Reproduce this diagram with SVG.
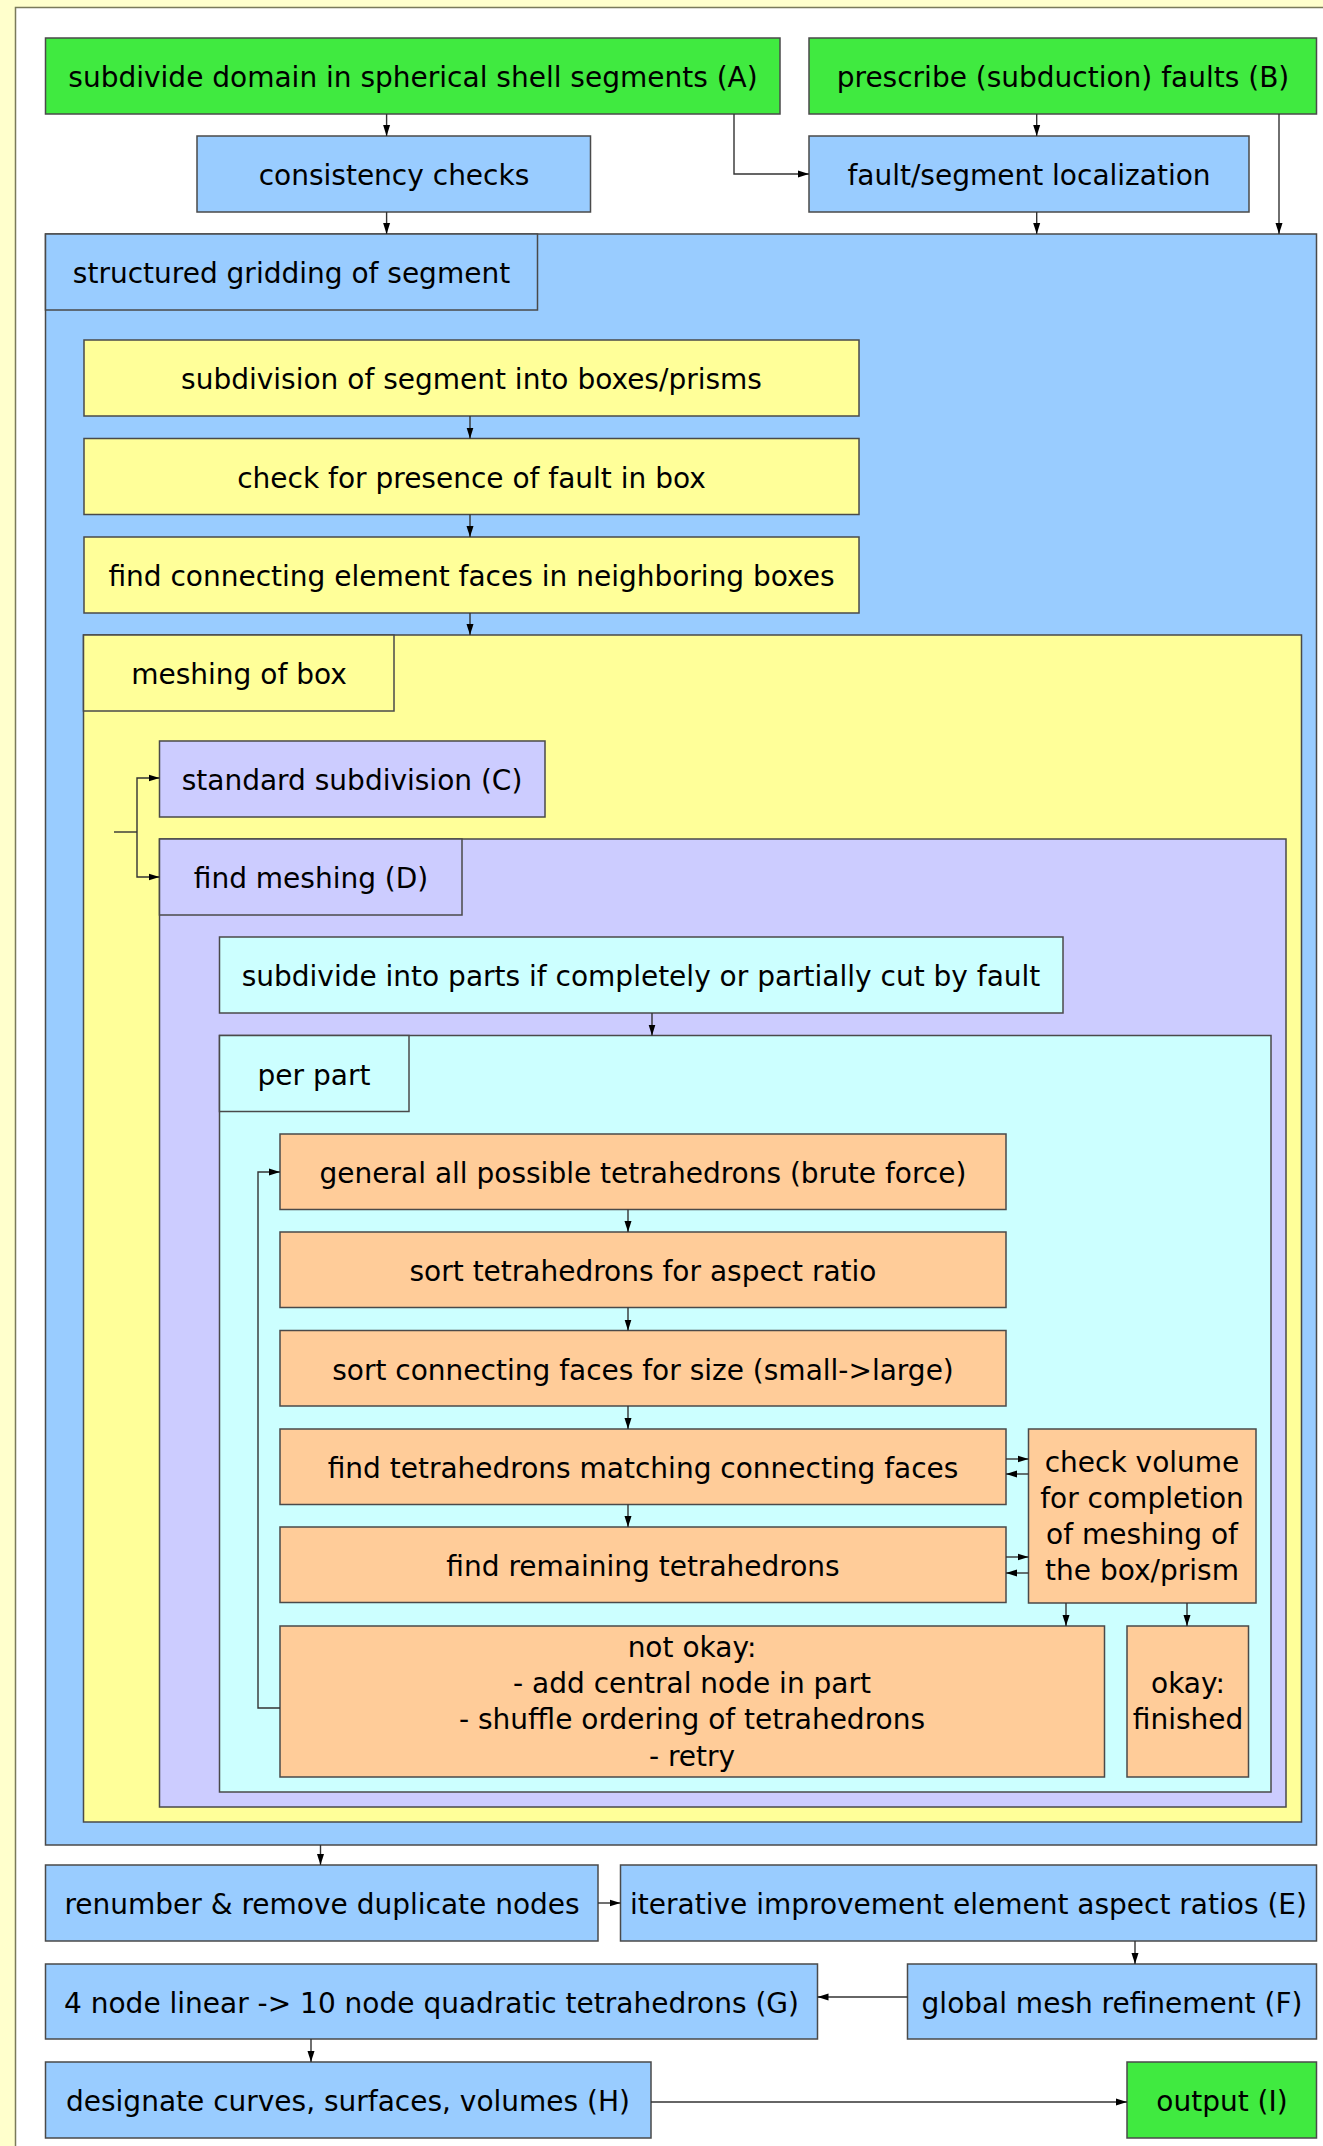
<svg xmlns="http://www.w3.org/2000/svg" width="1323" height="2146" viewBox="0 0 1323 2146">
<defs>
<style>
.b{stroke:#4a4a4a;stroke-width:1.5}
.g{fill:#40ea40}.bl{fill:#99ccff}.y{fill:#ffff99}.l{fill:#ccccff}.c{fill:#ccffff}.o{fill:#ffcc99}
text{font-family:"DejaVu Sans","Liberation Sans",sans-serif;font-size:28px;fill:#000;text-anchor:middle}
.cn{fill:none;stroke:#333;stroke-width:1.4;marker-end:url(#ah)}
.ln{fill:none;stroke:#333;stroke-width:1.4}
</style>
<marker id="ah" markerUnits="userSpaceOnUse" markerWidth="12" markerHeight="8" refX="11" refY="4" orient="auto">
<path d="M0,0.5 L11,4 L0,7.5 z" fill="#000"/>
</marker>
</defs>
<rect x="0" y="0" width="1323" height="2146" fill="#ffffcc"/>
<rect x="15.5" y="7.5" width="1320" height="2150" fill="#ffffff" stroke="#7a7a5a" stroke-width="1.5"/>

<g id="nodeA"><rect class="b g" x="45.5" y="38" width="734.5" height="76"/><text x="413" y="87">subdivide domain in spherical shell segments (A)</text></g>
<g id="nodeB"><rect class="b g" x="809" y="38" width="507.5" height="76"/><text x="1063" y="87">prescribe (subduction) faults (B)</text></g>
<g id="consistency"><rect class="b bl" x="197" y="136" width="393.5" height="76"/><text x="394" y="185">consistency checks</text></g>
<g id="localization"><rect class="b bl" x="809" y="136" width="440" height="76"/><text x="1029" y="185">fault/segment localization</text></g>

<g id="gridding">
<rect class="b bl" x="45.5" y="234" width="1271" height="1611"/>
<rect class="b bl" x="45.5" y="234" width="492" height="76"/><text x="291.5" y="283">structured gridding of segment</text>
</g>
<g id="subdivisionBoxes"><rect class="b y" x="84" y="340" width="775" height="76"/><text x="471.5" y="389">subdivision of segment into boxes/prisms</text></g>
<g id="checkFault"><rect class="b y" x="84" y="438.5" width="775" height="76"/><text x="471.5" y="487.5">check for presence of fault in box</text></g>
<g id="connectingFaces"><rect class="b y" x="84" y="537" width="775" height="76"/><text x="471.5" y="586">find connecting element faces in neighboring boxes</text></g>

<g id="meshingBox">
<rect class="b y" x="83.5" y="635" width="1218" height="1187"/>
<rect class="b y" x="83.5" y="635" width="310.5" height="76"/><text x="239" y="684">meshing of box</text>
</g>
<g id="nodeC"><rect class="b l" x="159.5" y="741" width="385.5" height="76"/><text x="352" y="790">standard subdivision (C)</text></g>
<g id="findMeshing">
<rect class="b l" x="159.5" y="839" width="1126.5" height="968"/>
<rect class="b l" x="159.5" y="839" width="302.5" height="76"/><text x="311" y="888">find meshing (D)</text>
</g>
<g id="subdivideParts"><rect class="b c" x="219.5" y="937" width="843.5" height="76"/><text x="641" y="986">subdivide into parts if completely or partially cut by fault</text></g>
<g id="perPart">
<rect class="b c" x="219.5" y="1035.5" width="1051.5" height="756.5"/>
<rect class="b c" x="219.5" y="1035.5" width="189.5" height="76"/><text x="314" y="1084.5">per part</text>
</g>
<g id="general"><rect class="b o" x="280" y="1134" width="726" height="75.5"/><text x="643" y="1183">general all possible tetrahedrons (brute force)</text></g>
<g id="sortTetra"><rect class="b o" x="280" y="1232" width="726" height="75.5"/><text x="643" y="1281">sort tetrahedrons for aspect ratio</text></g>
<g id="sortFaces"><rect class="b o" x="280" y="1330.5" width="726" height="75.5"/><text x="643" y="1379.5">sort connecting faces for size (small-&gt;large)</text></g>
<g id="findMatching"><rect class="b o" x="280" y="1429" width="726" height="75.5"/><text x="643" y="1478">find tetrahedrons matching connecting faces</text></g>
<g id="findRemaining"><rect class="b o" x="280" y="1527" width="726" height="75.5"/><text x="643" y="1576">find remaining tetrahedrons</text></g>
<g id="checkVolume"><rect class="b o" x="1028.5" y="1429" width="227.5" height="174"/>
<text x="1142" y="1472">check volume</text><text x="1142" y="1508">for completion</text><text x="1142" y="1544">of meshing of</text><text x="1142" y="1580">the box/prism</text></g>
<g id="notOkay"><rect class="b o" x="280" y="1626" width="824.5" height="151"/>
<text x="692" y="1657">not okay:</text><text x="692" y="1693">- add central node in part</text><text x="692" y="1729">- shuffle ordering of tetrahedrons</text><text x="692" y="1766">- retry</text></g>
<g id="okay"><rect class="b o" x="1127" y="1626" width="121.5" height="151"/>
<text x="1188" y="1693">okay:</text><text x="1188" y="1729">finished</text></g>

<g id="renumber"><rect class="b bl" x="45.5" y="1865" width="552.5" height="76"/><text x="322" y="1914">renumber &amp; remove duplicate nodes</text></g>
<g id="nodeE"><rect class="b bl" x="620.5" y="1865" width="696" height="76"/><text x="968.5" y="1914">iterative improvement element aspect ratios (E)</text></g>
<g id="nodeG"><rect class="b bl" x="45.5" y="1964" width="772" height="75"/><text x="431.5" y="2013">4 node linear -&gt; 10 node quadratic tetrahedrons (G)</text></g>
<g id="nodeF"><rect class="b bl" x="907.5" y="1964" width="409" height="75"/><text x="1112" y="2013">global mesh refinement (F)</text></g>
<g id="nodeH"><rect class="b bl" x="45.5" y="2062" width="605.5" height="76"/><text x="348" y="2111">designate curves, surfaces, volumes (H)</text></g>
<g id="nodeI"><rect class="b g" x="1127" y="2062" width="189.5" height="76"/><text x="1222" y="2111">output (I)</text></g>

<g id="connectors">
<path class="cn" d="M386.6,114 V136"/>
<path class="cn" d="M386.6,212 V234"/>
<path class="cn" d="M734,114 V174 H809"/>
<path class="cn" d="M1036.7,114 V136"/>
<path class="cn" d="M1036.7,212 V234"/>
<path class="cn" d="M1279,114 V234"/>
<path class="cn" d="M470,416 V438.5"/>
<path class="cn" d="M470,514.5 V537"/>
<path class="cn" d="M470,613 V635"/>
<path class="ln" d="M114,832 H137"/>
<path class="cn" d="M137,832 V778 H159.5"/>
<path class="cn" d="M137,832 V877 H159.5"/>
<path class="cn" d="M652,1013 V1035.5"/>
<path class="cn" d="M628,1209.5 V1232"/>
<path class="cn" d="M628,1307.5 V1330.5"/>
<path class="cn" d="M628,1406 V1429"/>
<path class="cn" d="M628,1504.5 V1527"/>
<path class="cn" d="M280,1708 H258 V1172 H280"/>
<path class="cn" d="M1006,1459 H1028.5"/>
<path class="cn" d="M1028.5,1474 H1006"/>
<path class="cn" d="M1006,1557 H1028.5"/>
<path class="cn" d="M1028.5,1573 H1006"/>
<path class="cn" d="M1066,1603 V1626"/>
<path class="cn" d="M1187,1603 V1626"/>
<path class="cn" d="M320.5,1845 V1865"/>
<path class="cn" d="M598,1903 H620.5"/>
<path class="cn" d="M1135,1941 V1964"/>
<path class="cn" d="M907.5,1997 H817.5"/>
<path class="cn" d="M311,2039 V2062"/>
<path class="cn" d="M651,2102 H1127"/>
</g>
</svg>
